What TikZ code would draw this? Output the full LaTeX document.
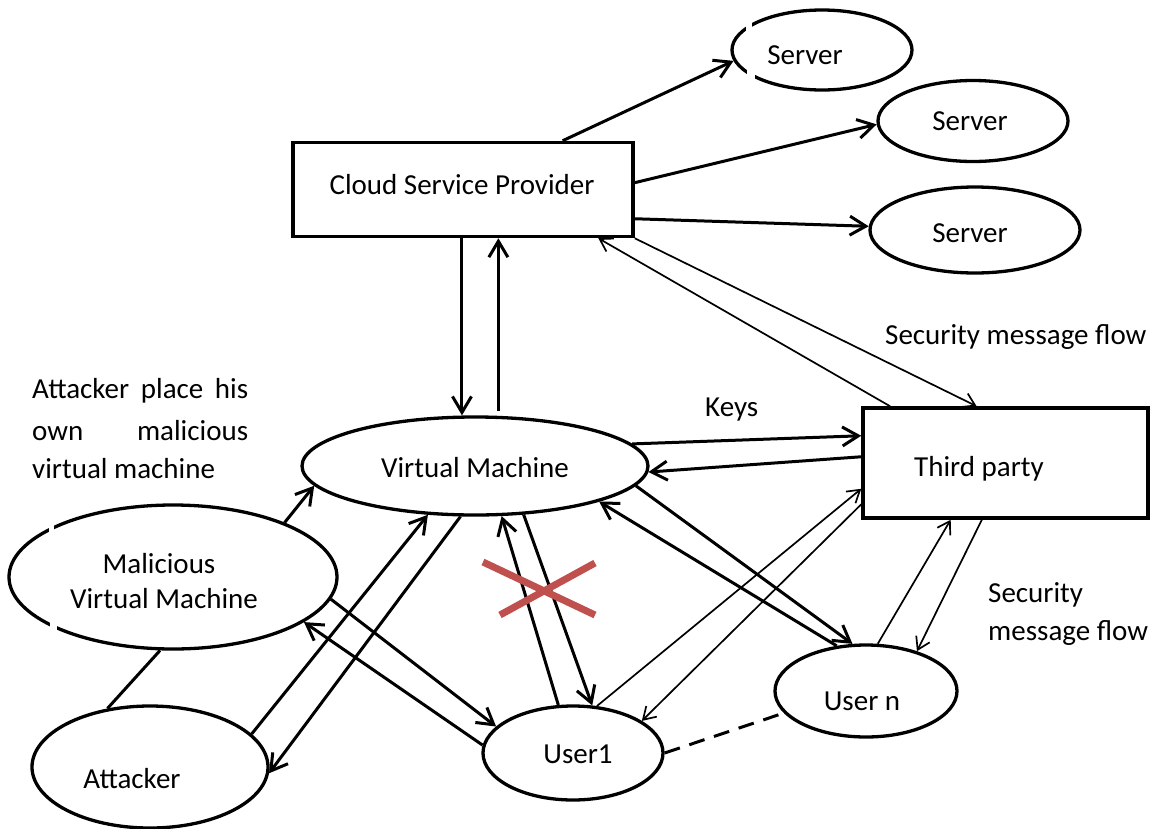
\documentclass[tikz,border=0pt]{standalone}
\usepackage{fontspec}
\setmainfont{Carlito}
\usetikzlibrary{arrows.meta,shapes.geometric,calc}
\definecolor{xred}{RGB}{192,80,77}
\begin{document}
\begin{tikzpicture}[x=1pt,y=-1pt,
  font=\fontsize{29}{35}\selectfont,
  box/.style={draw, rectangle, line width=3.5pt, inner sep=0pt},
  oval/.style={draw, ellipse, line width=3.3pt, inner sep=0pt},
  lbl/.style={inner sep=0pt},
  thk/.style={line width=3pt},
  thn/.style={line width=1.7pt},
  tip/.style={-{Straight Barb[length=16pt,width=19pt]}},
  tipS/.style={-{Straight Barb[length=12pt,width=15pt]}},
  dashln/.style={line width=3pt, dash pattern=on 16pt off 10pt},
  xmark/.style={draw=xred, line width=7pt},
  notch/.style={fill=white}
]
\useasboundingbox (0,0) rectangle (1160,828);

% boxes
\node[box, minimum width=340pt, minimum height=94pt] (csp) at (463,189.5) {};
\node[box, minimum width=285pt, minimum height=110pt] (tp) at (1005.5,463) {};

% ovals
\node[oval, minimum width=180pt, minimum height=80pt] (s1) at (822,50) {};
\node[oval, minimum width=190pt, minimum height=81pt] (s2) at (973,121) {};
\node[oval, minimum width=210pt, minimum height=86pt] (s3) at (975,230) {};
\node[oval, minimum width=346pt, minimum height=98pt] (vm) at (475,466) {};
\node[oval, minimum width=328pt, minimum height=144pt] (mvm) at (173,577) {};
\node[oval, minimum width=236pt, minimum height=122pt] (att) at (150,767) {};
\node[oval, minimum width=180pt, minimum height=94pt] (u1) at (573,753) {};
\node[oval, minimum width=182pt, minimum height=92pt] (un) at (866,691) {};

% small breaks in two of the outlines
\fill[notch] (746,17) rectangle (752,31);
\fill[notch] (747,69) rectangle (755,84);
\fill[notch] (49,521) rectangle (54,537);
\fill[notch] (50,618) rectangle (57,634);

% texts
\node[lbl, anchor=base] (csptxt) at (462,194) {Cloud Service Provider};
\node[lbl, anchor=base] (s1txt) at (805,64) {Server};
\node[lbl, anchor=base] (s2txt) at (970,130) {Server};
\node[lbl, anchor=base] (s3txt) at (970,242) {Server};
\node[lbl, anchor=base] (tptxt) at (979,476) {Third party};
\node[lbl, anchor=base] (vmtxt) at (475,477) {Virtual Machine};
\node[lbl, anchor=base] (mvmtxt1) at (159,573) {Malicious};
\node[lbl, anchor=base] (mvmtxt2) at (164,608) {Virtual Machine};
\node[lbl, anchor=base] (atttxt) at (132,788) {Attacker};
\node[lbl, anchor=base] (u1txt) at (578,763) {User1};
\node[lbl, anchor=base] (untxt) at (862,710) {User n};
\node[lbl, anchor=base west] (flow1) at (885,344) {Security message flow};
\node[lbl, anchor=base west] (keys) at (705,416) {Keys};
\node[lbl, anchor=base west] (flow2a) at (988,602) {Security};
\node[lbl, anchor=base west] (flow2b) at (988,640) {message flow};
\node[lbl, anchor=base west] (note1) at (32,398) {\makebox[216pt][s]{Attacker place his}};
\node[lbl, anchor=base west] (note2) at (32,440) {\makebox[216pt][s]{own malicious}};
\node[lbl, anchor=base west] (note3) at (32,478) {virtual machine};

% provider to servers
\draw[thk,tip] ($(csp.north west)!0.79!(csp.north east)$) -- (s1.187.6);
\draw[thk,tip] ($(csp.north east)!0.43!(csp.south east)$) -- (s2.182);
\draw[thk,tip] ($(csp.north east)!0.80!(csp.south east)$) -- (s3.178);

% provider <-> virtual machine
\draw[thk,tip] ($(csp.south west)!0.497!(csp.south east)$) coordinate (cv) -- (cv |- vm.north);
\coordinate (vc) at ($(csp.south west)!0.603!(csp.south east)$);
\draw[thk,tip] ($(vc |- vm.north)+(0,-4)$) -- (vc);

% provider <-> third party
\draw[thn,tipS] ($(tp.north west)!0.10!(tp.north east)$) -- ($(csp.south west)!0.894!(csp.south east)$);
\draw[thn,tipS] (csp.south east) -- ($(tp.north west)!0.40!(tp.north east)$);

% virtual machine <-> third party
\draw[thk,tip] (vm.8) -- ($(tp.north west)!0.26!(tp.south west)$);
\draw[thk,tip] ($(tp.north west)!0.445!(tp.south west)$) -- (vm.-2);

% virtual machine <-> user n
\draw[thk,tip] (vm.-7.8) -- (un.106);
\draw[thk,tip] (un.123) -- (vm.-16.3);

% users <-> third party
\draw[thn,tipS] (u1.63) -- ($(tp.north west)!0.727!(tp.south west)$);
\draw[thn,tipS] ($(tp.north west)!0.864!(tp.south west)$) -- (u1.25);
\draw[thn,tipS] (un.76) -- ($(tp.south west)!0.31!(tp.south east)$);
\draw[thn,tipS] ($(tp.south west)!0.418!(tp.south east)$) -- (un.38);

% virtual machine <-> user1
\draw[thk,tip] (u1.107) -- (vm.-62);
\draw[thk,tip] (vm.-45.6) -- (u1.68);

% attacker <-> virtual machine
\draw[thk,tip] (att.18) -- (vm.226.7);
\draw[thk,tip] (vm.254.5) -- (att.-3);

% malicious virtual machine links
\draw[thk,tip] (mvm.26.6) -- (vm.187.5);
\draw[thk,tip] (mvm.-8) -- (u1.161.8);
\draw[thk,tip] (u1.175) -- (mvm.-19);
\draw[thk] (mvm.260) -- (att.126);

% user1 - - user n
\draw[dashln] (u1.0) -- (un.195);

% blocked path mark
\coordinate (cross) at (540,589);
\draw[xmark] ($(cross)+(-57,-27)$) -- ($(cross)+(55,26)$);
\draw[xmark] ($(cross)+(-40,26)$) -- ($(cross)+(55,-26)$);
\end{tikzpicture}
\end{document}
